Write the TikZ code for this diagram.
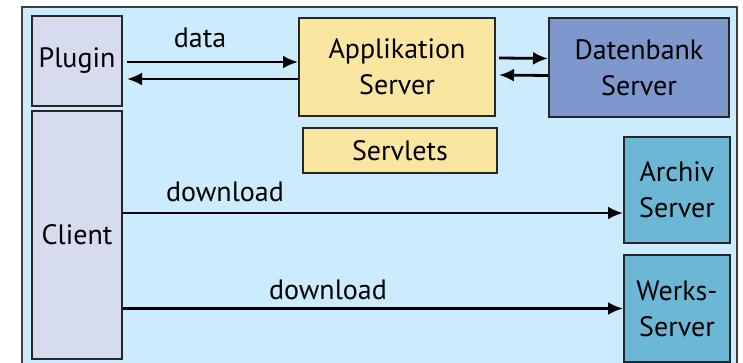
\documentclass[tikz,border=0pt]{standalone}
\usepackage{fontspec}
\setmainfont{PT Sans}
\usepackage{tikz}
\usetikzlibrary{calc,arrows.meta}

\definecolor{framebg}{HTML}{CCEBFC}
\definecolor{clientfill}{HTML}{D7DBEE}
\definecolor{appfill}{HTML}{FAE6A0}
\definecolor{dbfill}{HTML}{7E97CD}
\definecolor{archfill}{HTML}{6DB7D6}

\tikzset{
  box/.style={draw=black!85, line width=2pt, anchor=north west, align=center,
    inner sep=0pt, font=\fontsize{28}{36}\selectfont},
  link/.style={line width=2.8pt, -{Latex[length=15pt,width=13pt]}},
  lbl/.style={font=\fontsize{28}{36}\selectfont, inner sep=0pt}
}

\begin{document}
\begin{tikzpicture}[x=1pt,y=-1pt]
    \useasboundingbox (0,0) rectangle (743,363);
    \draw[black!75, line width=2pt, fill=framebg] (22,7) rectangle (737,372);
    % client side
    \node[box, fill=clientfill, minimum width=90pt, minimum height=90pt] (plugin) at (31,15) {Plugin};
    \node[box, fill=clientfill, minimum width=90pt, minimum height=248pt] (client) at (31,110) {Client};
    % servers
    \node[box, fill=appfill, minimum width=196pt, minimum height=98pt] (app) at (298,17) {Applikation\\Server};
    \node[box, fill=appfill, minimum width=194pt, minimum height=45pt] (servlets) at (302,127) {Servlets};
    \node[box, fill=dbfill, minimum width=180pt, minimum height=99pt] (db) at (548,17) {Datenbank\\Server};
    \node[box, fill=archfill, minimum width=106pt, minimum height=106pt] (archiv) at (623,136) {Archiv\\Server};
    \node[box, fill=archfill, minimum width=106pt, minimum height=107pt] (werks) at (623,254) {Werks-\\Server};
    % connections
    \draw[link] ($(plugin.east)+(4,1)$) -- ($(app.west)+(0,-5)$);
    \draw[link] ($(app.west)+(0,12)$) -- ($(plugin.east)+(4,18)$);
    \node[lbl] (datalbl) at (200,38) {data};
    \draw[link] ($(app.east)+(3,-9)$) -- ($(db.west)+(0,-9)$);
    \draw[link] ($(db.west)+(0,8)$) -- ($(app.east)+(3,8)$);
    \draw[link] (client.east |- archiv.center) ++(0,23) coordinate (c1) -- (c1 -| archiv.west);
    \node[lbl] (dl1) at (225,192) {download};
    \draw[link] (client.east |- werks.center) coordinate (c2) -- (c2 -| werks.west);
    \node[lbl] (dl2) at (328,290) {download};
\end{tikzpicture}
\end{document}
